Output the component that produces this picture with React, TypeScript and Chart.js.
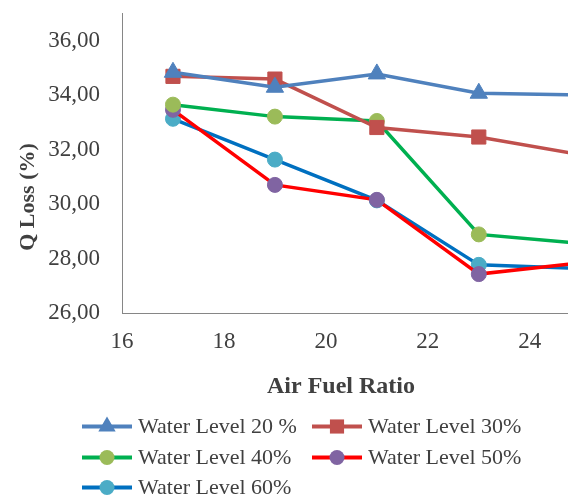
import React, { useEffect, useRef } from "react";
import { Chart, registerables } from "chart.js";

Chart.register(...registerables);

const airFuelRatio = [17, 19, 21, 23, 25];
const waterLevel20 = [34.85, 34.3, 34.79, 34.08, 34.02];
const waterLevel30 = [34.7, 34.6, 32.82, 32.47, 31.82];
const waterLevel40 = [33.66, 33.22, 33.06, 28.89, 28.56];
const waterLevel50 = [33.47, 30.71, 30.16, 27.43, 27.84];
const waterLevel60 = [33.14, 31.64, 30.14, 27.77, 27.64];

const seriesLabels = [
  "Water Level 20 %",
  "Water Level 30%",
  "Water Level 40%",
  "Water Level 50%",
  "Water Level 60%",
];

const xTitle = "Air Fuel Ratio";
const yTitle = "Q Loss (%)";

const SERIF = "'Liberation Serif', 'Times New Roman', serif";
const TEXT = "#404040";

function toPoints(vals: number[]) {
  return vals.map((v, i) => ({ x: airFuelRatio[i], y: v }));
}

function drawMarker(ctx: CanvasRenderingContext2D, style: string, x: number, y: number, r: number, color: string) {
  ctx.save();
  ctx.fillStyle = color;
  ctx.beginPath();
  if (style === "triangle") {
    ctx.moveTo(x, y - r);
    ctx.lineTo(x + r * Math.sin((2 * Math.PI) / 3), y + r / 2);
    ctx.lineTo(x - r * Math.sin((2 * Math.PI) / 3), y + r / 2);
    ctx.closePath();
  } else if (style === "rect") {
    const s = r * Math.SQRT1_2;
    ctx.rect(x - s, y - s, 2 * s, 2 * s);
  } else {
    ctx.arc(x, y, r, 0, Math.PI * 2);
  }
  ctx.fill();
  ctx.restore();
}

const customTextPlugin = {
  id: "customText",
  afterDraw(chart: any) {
    const ctx: CanvasRenderingContext2D = chart.ctx;
    ctx.save();
    ctx.fillStyle = TEXT;
    // x title
    ctx.font = `bold 24px ${SERIF}`;
    ctx.textAlign = "center";
    ctx.textBaseline = "alphabetic";
    ctx.fillText(xTitle, 341, 393);
    // y title
    ctx.save();
    ctx.translate(34, 197);
    ctx.rotate(-Math.PI / 2);
    ctx.font = `bold 22px ${SERIF}`;
    ctx.textAlign = "center";
    ctx.fillText(yTitle, 0, 0);
    ctx.restore();

    // legend
    const cols = [82, 312];
    const baselines = [433, 464, 494];
    ctx.font = `22px ${SERIF}`;
    ctx.textAlign = "left";
    chart.data.datasets.forEach((ds: any, i: number) => {
      const col = cols[i % 2];
      const base = baselines[Math.floor(i / 2)];
      const cy = base - 6.5;
      ctx.save();
      ctx.strokeStyle = ds.borderColor;
      ctx.lineWidth = 4;
      ctx.beginPath();
      ctx.moveTo(col, cy);
      ctx.lineTo(col + 50, cy);
      ctx.stroke();
      ctx.restore();
      drawMarker(ctx, ds.pointStyle, col + 25, cy, ds.pointRadius, ds.pointBackgroundColor);
      ctx.fillStyle = TEXT;
      ctx.fillText(ds.label, col + 56, base);
    });
    ctx.restore();
  },
};

export default function App() {
  const ref = useRef<HTMLCanvasElement | null>(null);

  useEffect(() => {
    if (!ref.current) return;
    const mk = (label: string, vals: number[], line: string, marker: string, style: string, r: number) => ({
      label,
      data: toPoints(vals),
      borderColor: line,
      backgroundColor: marker,
      pointBackgroundColor: marker,
      pointBorderColor: marker,
      pointBorderWidth: 1,
      pointStyle: style,
      pointRadius: r,
      pointHoverRadius: r,
      borderWidth: 3.5,
      tension: 0,
      fill: false,
    });
    const chart = new Chart(ref.current, {
      type: "line",
      data: {
        datasets: [
          mk(seriesLabels[0], waterLevel20, "#4F81BD", "#4F81BD", "triangle", 10),
          mk(seriesLabels[1], waterLevel30, "#C0504D", "#C0504D", "rect", 10),
          mk(seriesLabels[2], waterLevel40, "#00B050", "#9BBB59", "circle", 7.5),
          mk(seriesLabels[3], waterLevel50, "#FF0000", "#8064A2", "circle", 7.5),
          mk(seriesLabels[4], waterLevel60, "#0070C0", "#4BACC6", "circle", 7.5),
        ] as any,
      },
      options: {
        responsive: false,
        animation: false,
        layout: { autoPadding: false, padding: { top: 0, right: 0, left: 0, bottom: 0 } },
        plugins: {
          legend: { display: false },
          tooltip: { enabled: false },
          title: { display: false },
        },
        scales: {
          x: {
            type: "linear",
            min: 16,
            max: 24.75,
            grid: { display: false, drawTicks: true, tickLength: 15 },
            border: { display: true, color: "#868686", width: 1 },
            ticks: {
              stepSize: 2,
              includeBounds: false,
              color: TEXT,
              font: { family: SERIF, size: 23 },
              padding: 0,
              maxRotation: 0,
            },
            afterFit: (scale: any) => {
              scale.height = 185;
            },
          },
          y: {
            type: "linear",
            min: 26,
            max: 37,
            grid: { display: false, drawTicks: true, tickLength: 22 },
            border: { display: true, color: "#868686", width: 1 },
            ticks: {
              stepSize: 2,
              includeBounds: false,
              color: TEXT,
              font: { family: SERIF, size: 23 },
              padding: 0,
              callback: (v: any) => Number(v).toFixed(2).replace(".", ","),
            },
            afterFit: (scale: any) => {
              scale.width = 122;
            },
          },
        },
      } as any,
      plugins: [customTextPlugin],
    });
    return () => chart.destroy();
  }, []);

  return (
    <div style={{ position: "absolute", left: 0, top: 0, width: 568, height: 498, background: "#fff" }}>
      <canvas ref={ref} width={568} height={498} style={{ display: "block" }} />
    </div>
  );
}
